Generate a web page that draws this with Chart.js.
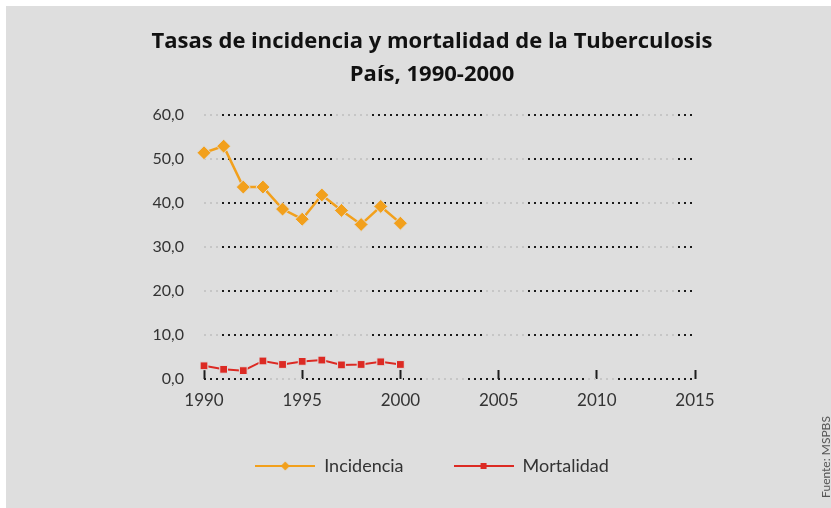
<!DOCTYPE html>
<html>
<head>
<meta charset="utf-8">
<script src="https://cdn.jsdelivr.net/npm/chart.js@4.4.0/dist/chart.umd.min.js"></script>
<style>
  html, body { margin: 0; padding: 0; background: #fff; }
  #wrap { position: absolute; left: 0; top: 0; width: 831px; height: 508px; }
</style>
</head>
<body>
<div id="wrap"><canvas id="lineChart"></canvas></div>
<script>
const years = [1990, 1991, 1992, 1993, 1994, 1995, 1996, 1997, 1998, 1999, 2000];
const incidencia = [51.4, 52.9, 43.6, 43.6, 38.6, 36.3, 41.8, 38.3, 35.1, 39.2, 35.4];
const mortalidad = [3.0, 2.2, 1.9, 4.1, 3.3, 4.0, 4.3, 3.2, 3.3, 3.9, 3.3];
const xTicks = [1990, 1995, 2000, 2005, 2010, 2015];
const yTicks = [0, 10, 20, 30, 40, 50, 60];

const orange = '#f2a01c';
const red = '#dc2a23';
const bg = '#dedede';
const FONT = 'Lato';

// dotted lines go black / light grey in bands, like the original scan
const gridBands = [[220, 334], [372, 486], [524, 638], [677, 695]];
const baseBands = [[203, 270], [306, 398], [403, 424], [466, 584], [616, 697]];
let gradCache = null;

function bandGradient(ctx, bands) {
  const w = 831;
  const g = ctx.createLinearGradient(0, 0, w, 0);
  g.addColorStop(0, '#c6c6c6');
  bands.forEach(b => {
    g.addColorStop(b[0] / w, '#c6c6c6');
    g.addColorStop(b[0] / w, '#1c1c1c');
    g.addColorStop(b[1] / w, '#1c1c1c');
    g.addColorStop(b[1] / w, '#c6c6c6');
  });
  g.addColorStop(1, '#c6c6c6');
  return g;
}

function gridColor(c) {
  if (!gradCache) {
    gradCache = {
      grid: bandGradient(c.chart.ctx, gridBands),
      base: bandGradient(c.chart.ctx, baseBands)
    };
  }
  return c.tick && c.tick.value === 0 ? gradCache.base : gradCache.grid;
}

function legendIcon(color, style) {
  const cv = document.createElement('canvas');
  cv.width = 60;
  cv.height = 14;
  const g = cv.getContext('2d');
  g.strokeStyle = color;
  g.lineWidth = 2;
  g.beginPath();
  g.moveTo(0, 7);
  g.lineTo(60, 7);
  g.stroke();
  g.fillStyle = color;
  if (style === 'diamond') {
    g.beginPath();
    g.moveTo(30, 2.5);
    g.lineTo(34.5, 7);
    g.lineTo(30, 11.5);
    g.lineTo(25.5, 7);
    g.closePath();
    g.fill();
  } else {
    g.fillRect(27, 4, 6, 6);
  }
  return cv;
}
const legendIcons = [legendIcon(orange, 'diamond'), legendIcon(red, 'square')];

const backdrop = {
  id: 'backdrop',
  beforeDraw(chart) {
    const ctx = chart.ctx;
    ctx.save();
    ctx.fillStyle = '#ffffff';
    ctx.fillRect(0, 0, chart.width, chart.height);
    ctx.fillStyle = bg;
    ctx.fillRect(6, 6, chart.width - 6, chart.height - 6);
    ctx.restore();
  },
  afterDraw(chart) {
    const ctx = chart.ctx;
    ctx.save();
    ctx.translate(826, 457);
    ctx.rotate(-Math.PI / 2);
    ctx.font = '12px ' + FONT;
    ctx.fillStyle = '#555';
    ctx.textAlign = 'center';
    ctx.textBaseline = 'middle';
    ctx.fillText('Fuente: MSPBS', 0, 0);
    ctx.restore();
  }
};

new Chart(document.getElementById('lineChart'), {
  type: 'line',
  data: {
    datasets: [
      {
        label: 'Incidencia',
        data: years.map((y, i) => ({ x: y, y: incidencia[i] })),
        borderColor: orange,
        backgroundColor: orange,
        borderWidth: 2.5,
        pointStyle: 'rectRot',
        pointRadius: 7,
        pointBackgroundColor: orange,
        pointBorderColor: bg,
        pointBorderWidth: 1,
        clip: false
      },
      {
        label: 'Mortalidad',
        data: years.map((y, i) => ({ x: y, y: mortalidad[i] })),
        borderColor: red,
        backgroundColor: red,
        borderWidth: 2,
        pointStyle: 'rect',
        pointRadius: 5.5,
        pointBackgroundColor: red,
        pointBorderColor: bg,
        pointBorderWidth: 1,
        clip: false
      }
    ]
  },
  options: {
    responsive: true,
    maintainAspectRatio: false,
    animation: false,
    layout: { padding: { left: 33, right: 0, top: 0, bottom: 23 } },
    plugins: {
      tooltip: { enabled: false },
      title: {
        display: true,
        text: ['Tasas de incidencia y mortalidad de la Tuberculosis', 'País, 1990-2000'],
        color: '#111',
        font: { family: 'Open Sans', size: 22, weight: 'bold', lineHeight: 1.52 },
        padding: { top: 25, bottom: 23 }
      },
      legend: {
        position: 'bottom',
        labels: {
          usePointStyle: true,
          pointStyleWidth: 60,
          padding: 50,
          color: '#333',
          font: { family: FONT, size: 18 },
          generateLabels: (chart) => chart.data.datasets.map((ds, i) => ({
            text: ds.label,
            pointStyle: legendIcons[i],
            datasetIndex: i,
            fontColor: '#333',
            fillStyle: 'transparent',
            strokeStyle: 'transparent',
            lineWidth: 0,
            hidden: false
          }))
        }
      }
    },
    scales: {
      x: {
        type: 'linear',
        min: 1990,
        max: 2015,
        afterBuildTicks: (scale) => { scale.ticks = xTicks.map(v => ({ value: v })); },
        afterFit: (scale) => { scale.height = 28; },
        border: { display: false },
        grid: {
          drawOnChartArea: false,
          drawTicks: true,
          tickLength: -9,
          tickWidth: 2,
          tickColor: '#1e1e1e'
        },
        ticks: {
          padding: 20,
          color: '#333',
          font: { family: FONT, size: 17 },
          callback: (v) => String(v)
        }
      },
      y: {
        min: 0,
        max: 60,
        afterBuildTicks: (scale) => { scale.ticks = yTicks.map(v => ({ value: v })); },
        afterFit: (scale) => { scale.width = 171; },
        border: { display: false, dash: [2, 4] },
        grid: {
          drawTicks: false,
          lineWidth: 2,
          borderDash: [2, 4],
          color: gridColor
        },
        ticks: {
          padding: 20,
          color: '#333',
          font: { family: FONT, size: 16 },
          callback: (v) => Number(v).toFixed(1).replace('.', ',')
        }
      },
      y2: {
        position: 'right',
        display: true,
        afterFit: (scale) => { scale.width = 136; },
        border: { display: false },
        grid: { display: false },
        ticks: { display: false }
      }
    }
  },
  plugins: [backdrop]
});
</script>
</body>
</html>
